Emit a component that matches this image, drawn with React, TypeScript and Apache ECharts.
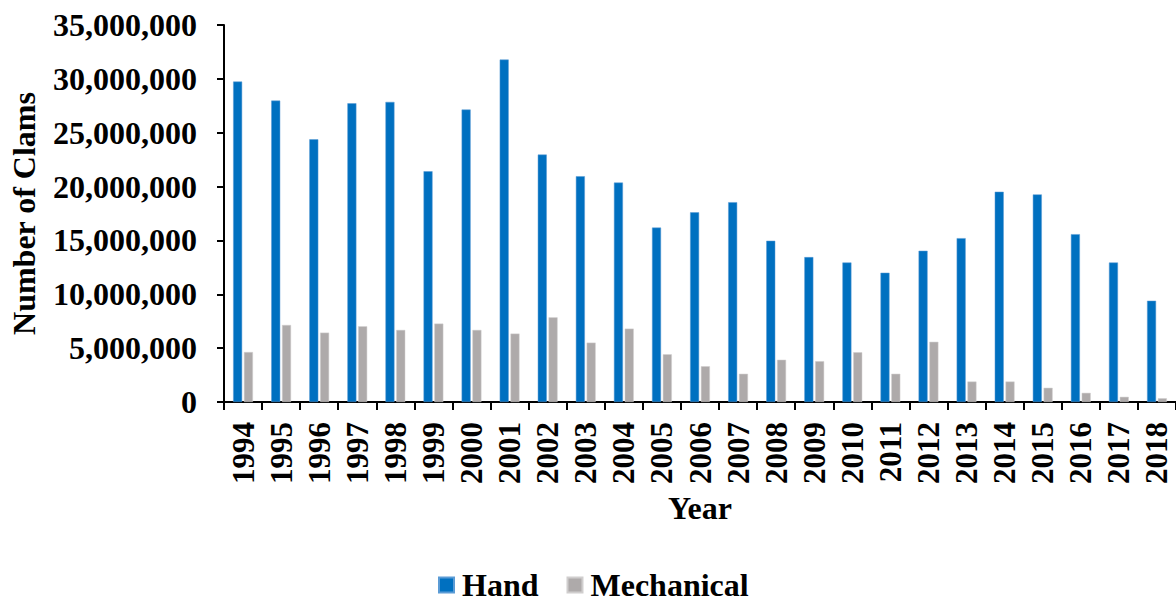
import React, { useEffect, useRef } from "react";
import * as echarts from "echarts";

const years = ["1994","1995","1996","1997","1998","1999","2000","2001","2002","2003","2004","2005","2006","2007","2008","2009","2010","2011","2012","2013","2014","2015","2016","2017","2018"];
const hand = [29750000,27980000,24390000,27730000,27860000,21420000,27150000,31790000,22970000,20960000,20370000,16190000,17610000,18550000,14970000,13450000,12950000,12000000,14040000,15210000,19520000,19270000,15580000,12950000,9400000];
const mechanical = [4640000,7150000,6440000,7030000,6690000,7280000,6690000,6350000,7860000,5510000,6810000,4430000,3320000,2620000,3920000,3790000,4620000,2620000,5590000,1900000,1900000,1320000,850000,480000,350000];
const yTicks = { min: 0, max: 35000000, interval: 5000000 };

const FONT = '"Liberation Serif", "Times New Roman", serif';

export default function App() {
  const ref = useRef<HTMLDivElement>(null);
  useEffect(() => {
    if (!ref.current) return;
    const chart = echarts.init(ref.current, undefined, { renderer: "svg" });
    chart.setOption({
      animation: false,
      textStyle: { fontFamily: FONT },
      grid: { left: 221, right: 0, top: 25, bottom: 200, containLabel: false },
      legend: {
        bottom: 1,
        padding: 0,
        left: 438,
        itemWidth: 15,
        itemHeight: 15,
        itemGap: 28,
        icon: "rect",
        textStyle: { fontFamily: FONT, fontWeight: "bold", fontSize: 32, color: "#000", padding: [0, 0, 0, 3] },
        data: ["Hand", "Mechanical"],
      },
      xAxis: {
        type: "category",
        data: years,
        name: "Year",
        nameLocation: "middle",
        nameGap: 90,
        nameTextStyle: { fontFamily: FONT, fontWeight: "bold", fontSize: 32, color: "#000", verticalAlign: "top" },
        axisLine: { lineStyle: { color: "#000", width: 2 } },
        axisTick: { show: true, length: 8, lineStyle: { color: "#000", width: 2 } },
        axisLabel: { interval: 0, rotate: 90, margin: 20, fontFamily: FONT, fontWeight: "bold", fontSize: 31, color: "#000" },
      },
      yAxis: {
        type: "value",
        min: yTicks.min,
        max: yTicks.max,
        interval: yTicks.interval,
        name: "Number of Clams",
        nameLocation: "middle",
        nameGap: 184,
        nameTextStyle: { fontFamily: FONT, fontWeight: "bold", fontSize: 32, color: "#000" },
        axisLine: { show: true, lineStyle: { color: "#000", width: 2 } },
        axisTick: { show: true, length: 7, lineStyle: { color: "#000", width: 2 } },
        splitLine: { show: false },
        axisLabel: {
          margin: 27,
          fontFamily: FONT,
          fontWeight: "bold",
          fontSize: 32,
          color: "#000",
          formatter: (v: number) => v.toLocaleString("en-US"),
        },
      },
      series: [
        {
          name: "Hand",
          type: "bar",
          data: hand,
          barWidth: 9,
          barGap: "20%",
          itemStyle: { color: "#0070C0", borderColor: "#5B9BD5", borderWidth: 0.5 },
        },
        {
          name: "Mechanical",
          type: "bar",
          data: mechanical,
          barWidth: 9,
          barGap: "20%",
          itemStyle: { color: "#AEAAAA", borderColor: "#D0CECE", borderWidth: 0.5 },
        },
      ],
    });
    return () => chart.dispose();
  }, []);
  return (
    <div
      ref={ref}
      style={{ position: "fixed", left: 0, top: 0, width: 1176, height: 602, background: "#fff" }}
    />
  );
}
